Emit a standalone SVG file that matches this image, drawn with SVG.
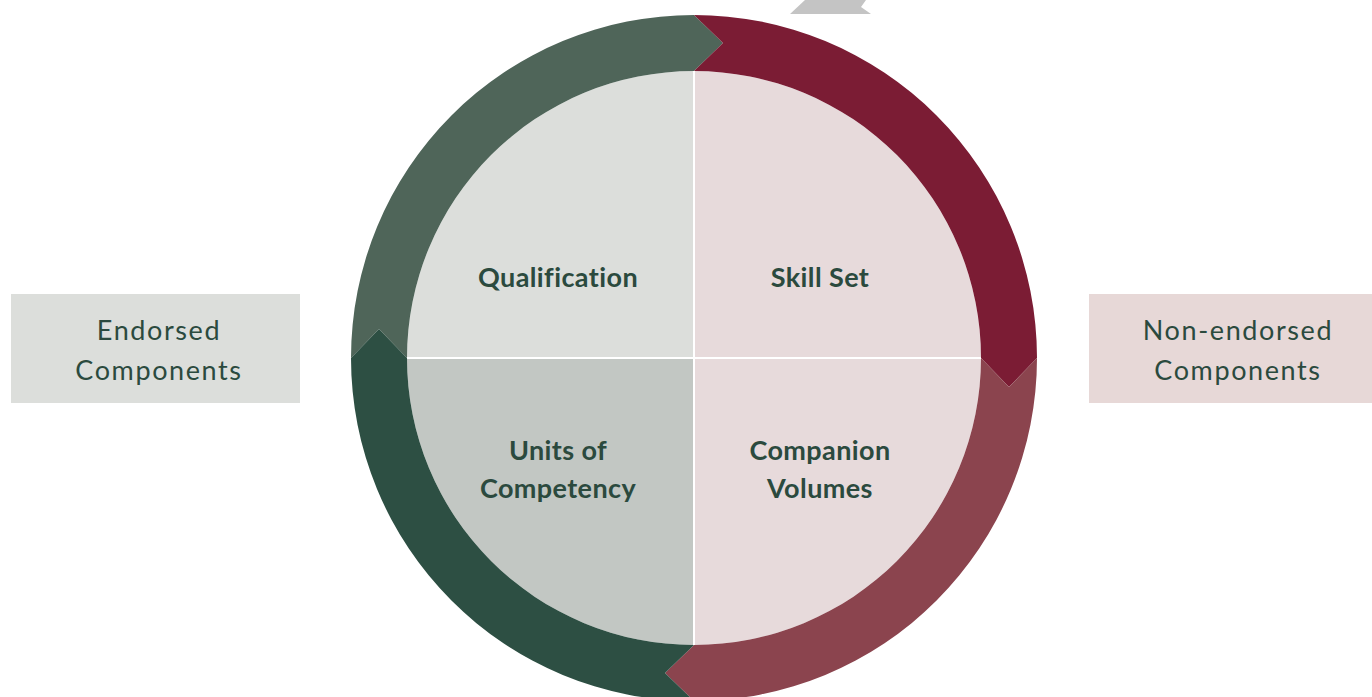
<svg xmlns="http://www.w3.org/2000/svg" width="1372" height="697" viewBox="0 0 1372 697">
<style>
.lbl{font-family:Lato,"Open Sans","Liberation Sans",sans-serif;font-weight:700;font-size:27px;letter-spacing:0.4px;fill:#2b4a3e;text-anchor:middle}
.side{font-family:Lato,"Open Sans","Liberation Sans",sans-serif;font-weight:400;font-size:27px;letter-spacing:1.6px;fill:#2b4a3e;text-anchor:middle}
.div{stroke:#ffffff;stroke-width:2}
</style>
<rect width="1372" height="697" fill="#ffffff"/>
<polygon points="790,14 805,0 866,0 861,7 871,14" fill="#c4c4c4"/>
<g id="quadrants">
<path d="M694,358 L407,358 A287,287 0 0 1 694,71 Z" fill="#dcdedb"/>
<path d="M694,358 L694,71 A287,287 0 0 1 981,358 Z" fill="#e7dadb"/>
<path d="M694,358 L981,358 A287,287 0 0 1 694,645 Z" fill="#e7dadb"/>
<path d="M694,358 L694,645 A287,287 0 0 1 407,358 Z" fill="#c2c7c3"/>
<line class="div" x1="406" y1="358" x2="982" y2="358"/>
<line class="div" x1="694" y1="70" x2="694" y2="646"/>
</g>
<g id="connectors">
<path id="arc-endorsed-top" d="M351,358 A343,343 0 0 1 694,15 L723,43 L694,71 A287,287 0 0 0 407,358 L379,329 Z" fill="#4f6559"/>
<path id="arc-nonendorsed-top" d="M694,15 A343,343 0 0 1 1037,358 L1009,387 L981,358 A287,287 0 0 0 694,71 L723,43 Z" fill="#7b1c34"/>
<path id="arc-nonendorsed-bottom" d="M1037,358 A343,343 0 0 1 694,701 L665,673 L694,645 A287,287 0 0 0 981,358 L1009,387 Z" fill="#8b444e"/>
<path id="arc-endorsed-bottom" d="M694,701 A343,343 0 0 1 351,358 L379,329 L407,358 A287,287 0 0 0 694,645 L665,673 Z" fill="#2d4f43"/>
</g>
<g id="node-qualification"><text class="lbl" x="558" y="287">Qualification</text></g>
<g id="node-skillset"><text class="lbl" x="820" y="287">Skill Set</text></g>
<g id="node-units"><text class="lbl" x="558" y="460">Units of</text><text class="lbl" x="558" y="498">Competency</text></g>
<g id="node-companion"><text class="lbl" x="820" y="460">Companion</text><text class="lbl" x="820" y="498">Volumes</text></g>
<g id="node-endorsed"><rect x="11" y="294" width="289" height="109" fill="#dcdedb"/><text class="side" x="159" y="340">Endorsed</text><text class="side" x="159" y="380">Components</text></g>
<g id="node-nonendorsed"><rect x="1089" y="294" width="283" height="109" fill="#e7d8d7"/><text class="side" x="1238" y="340">Non-endorsed</text><text class="side" x="1238" y="380">Components</text></g>
</svg>
